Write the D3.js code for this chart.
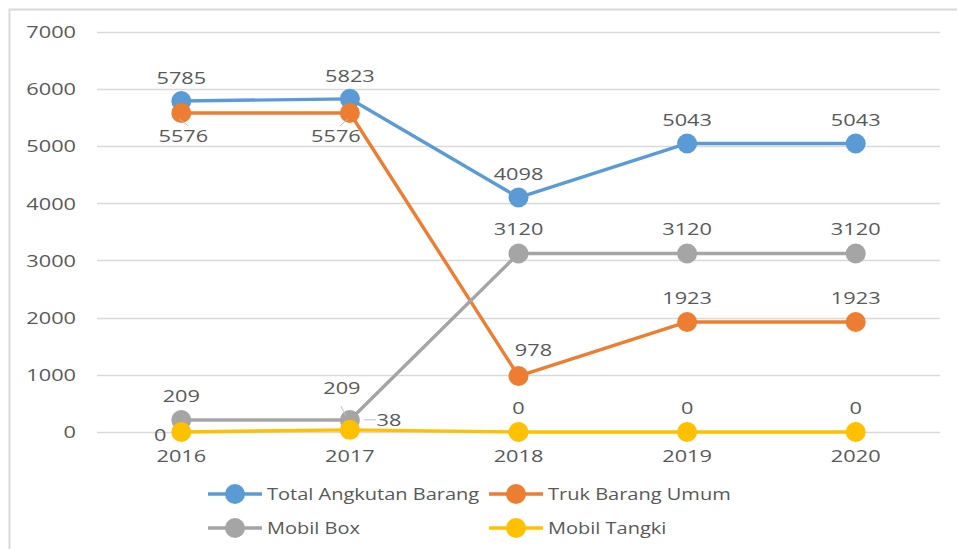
<!DOCTYPE html>
<html><head><meta charset="utf-8">
<script src="https://cdn.jsdelivr.net/npm/d3@7"></script>
<style>html,body{margin:0;padding:0;background:#fff;}svg{display:block;}</style>
</head><body>
<svg id="c" width="958" height="549"></svg>
<script>
const categories = ["2016","2017","2018","2019","2020"];
const seriesNames = ["Total Angkutan Barang","Truk Barang Umum","Mobil Box","Mobil Tangki"];
const totalAngkutan = [5785,5823,4098,5043,5043];
const trukBarang = [5576,5576,978,1923,1923];
const mobilBox = [209,209,3120,3120,3120];
const mobilTangki = [0,38,0,0,0];
const yTicks = [0,1000,2000,3000,4000,5000,6000,7000];

const colors = ["#5B9BD5","#ED7D31","#A5A5A5","#FFC000"];
// label placement (dx, dy relative to point) per series
const labelPos = [
  [[0,-23],[0,-23],[0,-23],[0,-23],[0,-23]],
  [[2,23],[-14,23],[15,-26],[0,-24],[0,-24]],
  [[0,-24],[-8,-32],[0,-24],[0,-24],[0,-24]],
  [[-21,3],[39,-10],[0,-24],[0,-24],[0,-24]]
];
const leaders = {"1-0":[[-2,6],[7,13]], "1-1":[[-2,6],[-10,13]], "2-1":[[-4,-4],[-9,-14]], "3-1":[[14,-10],[26,-10]]};

const svg = d3.select("#c");
const H = 549;
const x = d3.scaleBand().domain(categories).range([97,940]);
const y = d3.scaleLinear().domain([0,7000]).range([432,31.5]);
const textCol = "#595959";
const fontFam = "'Open Sans', sans-serif";
const SX = 1.36;

// chart border
svg.append("path").attr("d",`M9.5,${H} V9.5 H957`).attr("fill","none").attr("stroke","#D9D9D9").attr("stroke-width",2);

function txt(g, t, px, py, anchor, size, sx){
  g.append("text").attr("transform",`translate(${px},${py}) scale(${sx||SX},1)`)
   .attr("text-anchor",anchor).attr("dominant-baseline","central")
   .attr("font-family",fontFam).attr("font-size",size||16).attr("fill",textCol).text(t);
}

// gridlines
const grid = svg.append("g");
grid.selectAll("line").data(yTicks).join("line")
  .attr("x1",97).attr("x2",940).attr("y1",d=>Math.round(y(d))+0.5).attr("y2",d=>Math.round(y(d))+0.5)
  .attr("stroke","#D9D9D9").attr("stroke-width",1.3);

// y axis
const yAxis = svg.append("g").attr("transform","translate(97,0)")
  .call(d3.axisLeft(y).tickValues(yTicks).tickSize(0).tickPadding(21).tickFormat(d3.format("d")));
yAxis.select(".domain").remove();
yAxis.selectAll(".tick text").attr("fill",textCol).attr("font-family",fontFam).attr("font-size",16)
  .attr("x",0).attr("dy",null).attr("dominant-baseline","central")
  .attr("transform",`translate(-21,0) scale(${SX},1)`);

// x axis
const xAxis = svg.append("g").attr("transform","translate(0,432)")
  .call(d3.axisBottom(x).tickSize(0).tickPadding(0));
xAxis.select(".domain").remove();
xAxis.selectAll(".tick text").attr("fill",textCol).attr("font-family",fontFam).attr("font-size",16)
  .attr("y",0).attr("dy",null).attr("dominant-baseline","central")
  .attr("transform",`translate(0,24) scale(${SX},1)`);

const allSeries = [totalAngkutan, trukBarang, mobilBox, mobilTangki];
const cx = c => x(c) + x.bandwidth()/2;
const line = d3.line().x((d,i)=>cx(categories[i])).y(d=>y(d));

allSeries.forEach((s,si)=>{
  const g = svg.append("g");
  g.append("path").attr("d",line(s)).attr("fill","none").attr("stroke",colors[si]).attr("stroke-width",3.4).attr("stroke-linejoin","round");
  g.selectAll("circle").data(s).join("circle")
    .attr("cx",(d,i)=>cx(categories[i])).attr("cy",d=>y(d)).attr("r",10).attr("fill",colors[si]);
});

// leader lines
Object.entries(leaders).forEach(([k,seg])=>{
  const [si,pi] = k.split("-").map(v=>parseInt(v));
  const px = cx(categories[pi]), py = y(allSeries[si][pi]);
  svg.append("line").attr("x1",px+seg[0][0]).attr("y1",py+seg[0][1]).attr("x2",px+seg[1][0]).attr("y2",py+seg[1][1])
    .attr("stroke","#BFBFBF").attr("stroke-width",1);
});

// data labels
const lg = svg.append("g");
allSeries.forEach((s,si)=>{
  s.forEach((v,i)=>{
    const [dx,dy] = labelPos[si][i];
    txt(lg, String(v), cx(categories[i])+dx, y(v)+dy, "middle", 16);
  });
});

// legend
const legendItems = [
  {si:0, lx:208, ly:494},
  {si:1, lx:489, ly:494},
  {si:2, lx:208, ly:528},
  {si:3, lx:489, ly:528}
];
const leg = svg.append("g");
legendItems.forEach(it=>{
  leg.append("line").attr("x1",it.lx).attr("x2",it.lx+54).attr("y1",it.ly).attr("y2",it.ly)
    .attr("stroke",colors[it.si]).attr("stroke-width",3.4);
  leg.append("circle").attr("cx",it.lx+27).attr("cy",it.ly).attr("r",10).attr("fill",colors[it.si]);
  txt(leg, seriesNames[it.si], it.lx+59, it.ly, "start", 16, 1.25);
});
</script>
</body></html>
